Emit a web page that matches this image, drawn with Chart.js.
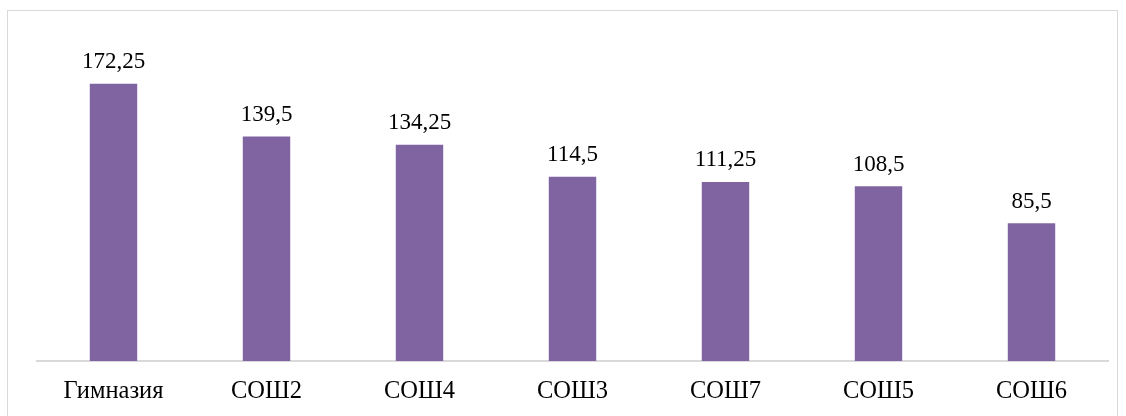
<!DOCTYPE html>
<html>
<head>
<meta charset="utf-8">
<script src="https://cdn.jsdelivr.net/npm/chart.js@4"></script>
<style>
  html, body { margin: 0; padding: 0; background: #fff; }
  #wrap { width: 1126px; height: 416px; position: relative; }
</style>
</head>
<body>
<div id="wrap"><canvas id="barChart" width="1126" height="416"></canvas></div>
<script>
// categories and values
const schools = ['Гимназия', 'СОШ2', 'СОШ4', 'СОШ3', 'СОШ7', 'СОШ5', 'СОШ6'];
const scores = [172.25, 139.5, 134.25, 114.5, 111.25, 108.5, 85.5];

const fontFamily = '"Liberation Serif", "Times New Roman", serif';

// thin gray frame round the chart, like the office export
const framePlugin = {
  id: 'frame',
  beforeDraw(chart) {
    const c = chart.ctx;
    c.save();
    c.strokeStyle = '#d9d9d9';
    c.lineWidth = 1;
    c.strokeRect(7.5, 10.5, 1110, 420);
    c.restore();
  }
};

// value labels above each bar, with decimal comma
const valueLabels = {
  id: 'valueLabels',
  afterDatasetsDraw(chart) {
    const c = chart.ctx;
    const meta = chart.getDatasetMeta(0);
    c.save();
    c.font = '23px ' + fontFamily;
    c.fillStyle = '#000';
    c.textAlign = 'center';
    c.textBaseline = 'bottom';
    meta.data.forEach(function (bar, i) {
      const txt = String(scores[i]).replace('.', ',');
      c.fillText(txt, bar.x, bar.y - 10);
    });
    c.restore();
  }
};

let ctx = document.getElementById('barChart').getContext('2d');
new Chart(ctx, {
  type: 'bar',
  data: {
    labels: schools,
    datasets: [{
      data: scores,
      backgroundColor: '#8064a2',
      categoryPercentage: 1,
      barPercentage: 0.31
    }]
  },
  options: {
    responsive: false,
    animation: false,
    layout: { padding: { left: 37, right: 18, top: 39, bottom: 0 } },
    plugins: {
      legend: { display: false },
      tooltip: { enabled: false }
    },
    scales: {
      x: {
        grid: { display: false, drawTicks: false },
        border: { color: '#d9d9d9', width: 2 },
        ticks: {
          color: '#000',
          padding: 16,
          font: { family: fontFamily, size: 24.5 }
        },
        afterFit(scale) { scale.height = 55; }
      },
      y: {
        display: false,
        min: 0,
        max: 200
      }
    }
  },
  plugins: [framePlugin, valueLabels]
});
</script>
</body>
</html>
